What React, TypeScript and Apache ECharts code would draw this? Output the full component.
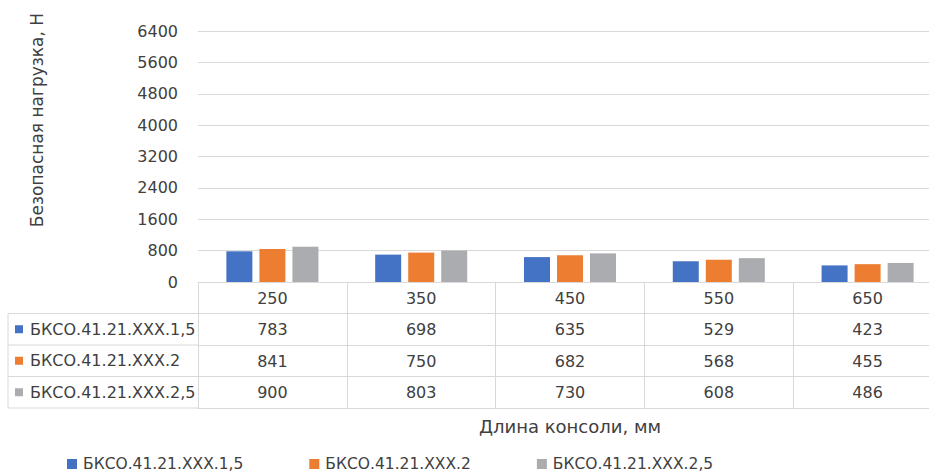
import React, { useEffect, useRef } from "react";
import * as echarts from "echarts";

const categories = ["250", "350", "450", "550", "650"];
const seriesNames = ["БКСО.41.21.XXX.1,5", "БКСО.41.21.XXX.2", "БКСО.41.21.XXX.2,5"];
const values1 = [783, 698, 635, 529, 423];
const values2 = [841, 750, 682, 568, 455];
const values3 = [900, 803, 730, 608, 486];
const seriesValues = [values1, values2, values3];
const colors = ["#4472C4", "#ED7D31", "#ABACB0"];
const yTitle = "Безопасная нагрузка, Н";
const xTitle = "Длина консоли, мм";

const FONT = "DejaVu Sans";
const TEXT = "#404040";
const LINE = "#d9d9d9";
const ROW_H = 31.5;
const TABLE_TOP = 282;

export default function App() {
  const ref = useRef<HTMLDivElement>(null);
  useEffect(() => {
    if (!ref.current) return;
    const chart = echarts.init(ref.current, undefined, { renderer: "svg" });

    const tableAxes = [0, 1, 2, 3, 4].map((k) => ({
      type: "category",
      gridIndex: 0,
      position: "bottom",
      offset: k * ROW_H,
      data: k === 0 ? categories : k <= 3 ? seriesValues[k - 1].map(String) : categories,
      axisLine: { show: true, lineStyle: { color: LINE, width: 1 } },
      axisTick: {
        show: k < 4,
        alignWithLabel: false,
        inside: false,
        length: ROW_H,
        lineStyle: { color: LINE, width: 1 },
      },
      axisLabel: {
        show: k < 4,
        margin: 8,
        fontSize: 16,
        fontFamily: FONT,
        color: TEXT,
      },
      splitLine: { show: false },
      ...(k === 4
        ? {
            name: xTitle,
            nameLocation: "middle",
            nameGap: 9,
            nameTextStyle: { fontSize: 18, fontFamily: FONT, color: TEXT, verticalAlign: "top" },
          }
        : {}),
    }));

    const graphics: any[] = [];
    for (let r = 1; r <= 4; r++) {
      const y = TABLE_TOP + r * ROW_H;
      graphics.push({
        type: "line",
        shape: { x1: 8, y1: y, x2: 198, y2: y },
        style: { stroke: LINE, lineWidth: 1 },
        silent: true,
      });
    }
    graphics.push({
      type: "line",
      shape: { x1: 8, y1: TABLE_TOP + ROW_H, x2: 8, y2: TABLE_TOP + 4 * ROW_H },
      style: { stroke: LINE, lineWidth: 1 },
      silent: true,
    });
    seriesNames.forEach((n, i) => {
      const cy = TABLE_TOP + (i + 1.5) * ROW_H;
      graphics.push({
        type: "rect",
        shape: { x: 15, y: cy - 4, width: 8, height: 8 },
        style: { fill: colors[i] },
        silent: true,
      });
      graphics.push({
        type: "text",
        x: 30,
        y: cy,
        style: {
          text: n,
          fontSize: 16,
          fontFamily: FONT,
          fill: TEXT,
          verticalAlign: "middle",
          textAlign: "left",
        },
        silent: true,
      });
    });
    graphics.push({
      type: "text",
      x: 37,
      y: 120,
      rotation: Math.PI / 2,
      style: {
        text: yTitle,
        fontSize: 17,
        fontFamily: FONT,
        fill: TEXT,
        textAlign: "center",
        verticalAlign: "middle",
      },
      silent: true,
    });

    chart.setOption({
      animation: false,
      backgroundColor: "#ffffff",
      textStyle: { fontFamily: FONT },
      grid: {
        left: 198,
        right: 18,
        top: 31,
        bottom: 475 - TABLE_TOP,
        containLabel: false,
        outerBoundsMode: "none",
      },
      legend: {
        data: seriesNames,
        left: 67,
        top: 456,
        padding: 0,
        itemWidth: 10,
        itemHeight: 10,
        itemGap: 66,
        icon: "rect",
        selectedMode: false,
        textStyle: { fontSize: 15.5, fontFamily: FONT, color: TEXT, padding: [0, 0, 0, 1] },
      },
      xAxis: tableAxes,
      yAxis: {
        type: "value",
        min: 0,
        max: 6400,
        interval: 800,
        axisLine: { show: false },
        axisTick: { show: false },
        axisLabel: {
          fontSize: 16,
          fontFamily: FONT,
          color: TEXT,
          margin: 20,
          formatter: (v: number) => String(v),
        },
        splitLine: { show: true, lineStyle: { color: LINE, width: 1 } },
      },
      series: seriesNames.map((n, i) => ({
        name: n,
        type: "bar",
        xAxisIndex: 0,
        data: seriesValues[i],
        barWidth: 26,
        barGap: "27%",
        itemStyle: { color: colors[i] },
      })),
      graphic: graphics,
    });
    return () => chart.dispose();
  }, []);

  return (
    <div
      style={{
        position: "fixed",
        left: 0,
        top: 0,
        width: 929,
        height: 475,
        overflow: "hidden",
        background: "#fff",
      }}
    >
      <div ref={ref} style={{ width: 960, height: 475 }} />
    </div>
  );
}
